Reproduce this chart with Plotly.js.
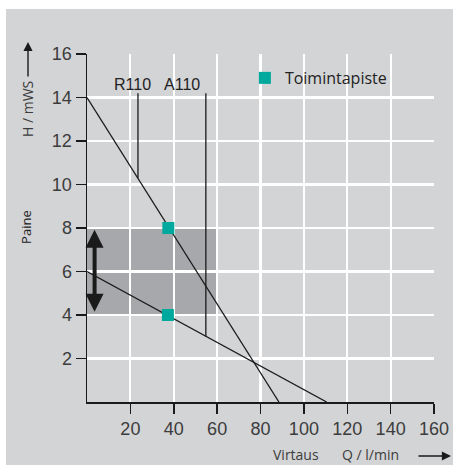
<!DOCTYPE html>
<html>
<head>
<meta charset="utf-8">
<script src="https://cdn.plot.ly/plotly-3.0.1.min.js"></script>
<style>html,body{margin:0;padding:0;background:#fff;}#chart{width:453px;height:465px;}</style>
</head>
<body>
<div id="chart"></div>
<script>
// Data
const curveA_Q = [0, 88.5];
const curveA_H = [14, 0];
const curveB_Q = [0, 110.5];
const curveB_H = [6, 0];
const r110_Q = [23.5, 23.5];
const r110_H = [14.2, 10.3];
const a110_Q = [54.8, 54.8];
const a110_H = [14.2, 3.0];
const opPoint_Q = [37.5, 37.3];
const opPoint_H = [8, 4];
const band_Q = [0, 60];
const band_H = [4, 8];
const arrow_Q = 3.5;
const xTicks = [20, 40, 60, 80, 100, 120, 140, 160];
const yTicks = [2, 4, 6, 8, 10, 12, 14, 16];
const labelNames = ['R110', 'A110'];
const labelQ = [20.8, 43.9];
const labelH = [14.6, 14.6];

const bg = '#d3d4d6';
const lineStyle = {color: '#1a1a1a', width: 1.3};

const traces = [
  {x: curveA_Q, y: curveA_H, mode: 'lines', line: lineStyle, showlegend: false, hoverinfo: 'skip'},
  {x: curveB_Q, y: curveB_H, mode: 'lines', line: lineStyle, showlegend: false, hoverinfo: 'skip'},
  {x: r110_Q, y: r110_H, mode: 'lines', line: lineStyle, showlegend: false, hoverinfo: 'skip'},
  {x: a110_Q, y: a110_H, mode: 'lines', line: lineStyle, showlegend: false, hoverinfo: 'skip'},
  {x: opPoint_Q, y: opPoint_H, mode: 'markers', name: 'Toimintapiste',
   marker: {symbol: 'square', size: 12, color: '#00a99d'}, showlegend: true}
];

const tickFont = {family: 'Liberation Sans, Arial, sans-serif', size: 18, color: '#3c3c3c'};
const txtFont = {family: 'Open Sans, sans-serif', size: 14, color: '#3c3c3c'};

const annotations = [];
labelNames.forEach((n, i) => annotations.push({
  x: labelQ[i], y: labelH[i], xref: 'x', yref: 'y', text: n, showarrow: false,
  font: {family: 'Liberation Sans, Arial, sans-serif', size: 16, color: '#222'}
}));
// double-headed arrow over the band
annotations.push({
  x: arrow_Q, y: band_H[1] - 0.08, ax: arrow_Q, ay: band_H[0] + 0.08,
  xref: 'x', yref: 'y', axref: 'x', ayref: 'y', text: '', showarrow: true,
  arrowhead: 2, arrowside: 'end+start', arrowwidth: 4, arrowsize: 0.9, arrowcolor: '#1a1a1a'
});
// axis titles
annotations.push({x: -0.170, y: 0.842, xref: 'paper', yref: 'paper', text: 'H / mWS', textangle: -90,
  showarrow: false, font: txtFont, xanchor: 'center', yanchor: 'middle'});
annotations.push({x: -0.170, y: 1.0345, xref: 'paper', yref: 'paper', text: '', showarrow: true,
  ax: 0, ay: 36, arrowhead: 2, arrowsize: 1.3, arrowwidth: 1.4, arrowcolor: '#1a1a1a'});
annotations.push({x: -0.176, y: 0.503, xref: 'paper', yref: 'paper', text: 'Paine', textangle: -90,
  showarrow: false, font: {family: 'Open Sans, sans-serif', size: 13, color: '#222'}, xanchor: 'center', yanchor: 'middle'});
const botY = (402 - 454) / 348;
annotations.push({x: 0.602, y: botY, xref: 'paper', yref: 'paper', text: 'Virtaus',
  showarrow: false, font: txtFont, xanchor: 'center', yanchor: 'middle'});
annotations.push({x: 0.818, y: botY, xref: 'paper', yref: 'paper', text: 'Q / l/min',
  showarrow: false, font: txtFont, xanchor: 'center', yanchor: 'middle'});
annotations.push({x: 1.049, y: (402 - 456) / 348, xref: 'paper', yref: 'paper', text: '', showarrow: true,
  ax: -34, ay: 0, arrowhead: 2, arrowsize: 1.3, arrowwidth: 1.4, arrowcolor: '#1a1a1a'});

const shapes = [
  {type: 'rect', xref: 'x', yref: 'y', x0: band_Q[0], x1: band_Q[1], y0: band_H[0], y1: band_H[1],
   fillcolor: '#a7a8ab', line: {width: 0}, layer: 'below'},
  // white page margins
  {type: 'rect', xref: 'paper', yref: 'paper', x0: -0.3, x1: 1.1, y0: (402-9)/348, y1: 1.2,
   fillcolor: '#ffffff', line: {width: 0}, layer: 'above'},
  {type: 'rect', xref: 'paper', yref: 'paper', x0: -0.3, x1: (6-87)/347, y0: -0.2, y1: 1.2,
   fillcolor: '#ffffff', line: {width: 0}, layer: 'above'}
];

const layout = {
  width: 453, height: 465,
  margin: {l: 87, r: 19, t: 54, b: 63},
  paper_bgcolor: bg, plot_bgcolor: bg,
  showlegend: true,
  legend: {x: 0.455, y: 0.98, xanchor: 'left', yanchor: 'top', bgcolor: 'rgba(0,0,0,0)',
    font: {family: 'Open Sans, sans-serif', size: 16, color: '#222'}},
  xaxis: {range: [0, 160], tickvals: xTicks, ticks: 'outside', ticklen: 10, tickwidth: 1.5, tickcolor: '#1a1a1a',
    showline: true, linecolor: '#1a1a1a', linewidth: 1.5, showgrid: true, gridcolor: '#ffffff', gridwidth: 2.2,
    zeroline: false, tickfont: tickFont, fixedrange: true},
  yaxis: {range: [0, 16], tickvals: yTicks, ticks: 'outside', ticklen: 10, tickwidth: 1.5, tickcolor: '#1a1a1a',
    showline: true, linecolor: '#1a1a1a', linewidth: 1.5, showgrid: true, gridcolor: '#ffffff', gridwidth: 2.2,
    zeroline: false, tickfont: tickFont, fixedrange: true},
  annotations: annotations,
  shapes: shapes
};

Plotly.newPlot('chart', traces, layout, {displayModeBar: false, staticPlot: true});
</script>
</body>
</html>
